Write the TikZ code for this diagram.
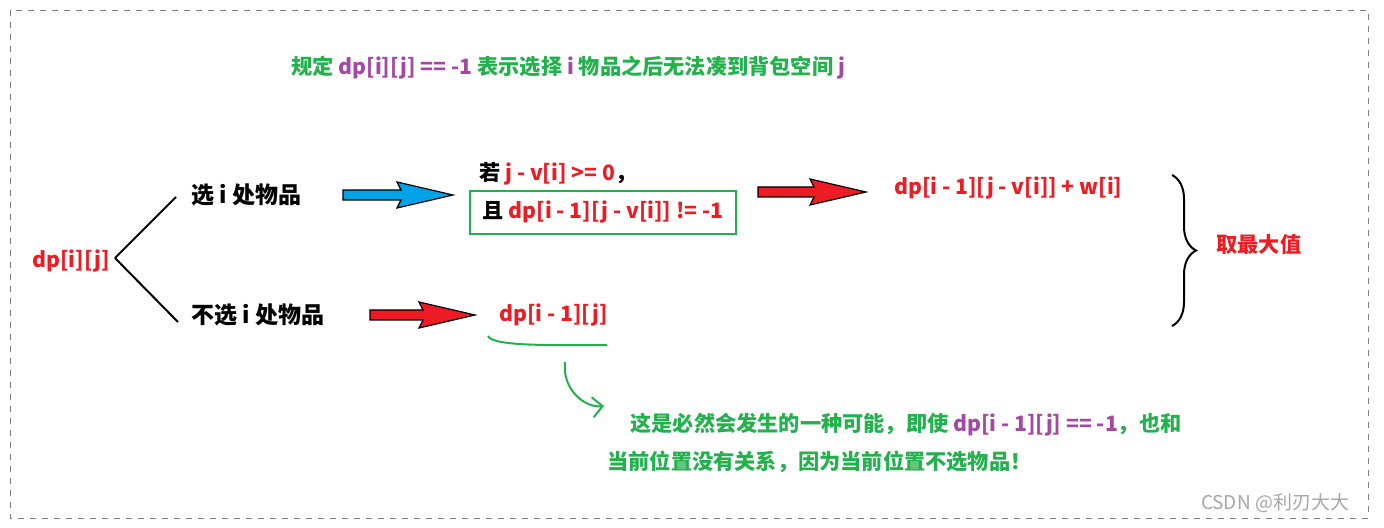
\documentclass[tikz,border=0pt]{standalone}
\usepackage{fontspec}
\setmainfont{Noto Sans CJK SC}
\usetikzlibrary{decorations.pathreplacing,arrows.meta}
\definecolor{gr}{RGB}{34,177,76}
\definecolor{rd}{RGB}{237,28,36}
\definecolor{pu}{RGB}{163,73,164}
\definecolor{bl}{RGB}{0,162,232}
\tikzset{txt/.style={font=\bfseries\fontsize{10.6}{12}\selectfont, inner sep=0pt},
 big/.style={font=\bfseries\fontsize{11.5}{13}\selectfont, inner sep=0pt}}
\newcommand{\blockarrow}[4]{% x1,x2,y,color
 \fill[#4,draw=black,line width=0.6pt] (#1,#3-5) -- (#2-52,#3-5) -- (#2-56,#3-13) -- (#2,#3) -- (#2-56,#3+13) -- (#2-52,#3+5) -- (#1,#3+5) -- cycle;}
\begin{document}
\begin{tikzpicture}[x=0.5pt,y=-0.5pt]
\useasboundingbox (0,0) rectangle (1384,528);
\draw[dashed,gray,line width=0.4pt] (10,10) rectangle (1368,518);
\node[txt,text=gr,anchor=west] (title) at (291,68) {规定 \textcolor{pu}{dp[i][j] == -1} 表示选择 \textcolor{pu}{i} 物品之后无法凑到背包空间 \textcolor{pu}{j}};
\node[txt,text=rd,anchor=west] (dp) at (32,261) {dp[i][j]};
\node[big,anchor=west] (sel) at (191,195) {选 i 处物品};
\node[big,anchor=west] (nsel) at (191,315) {不选 i 处物品};
\draw[line width=1pt] (115,258) -- (176,197);
\draw[line width=1pt] (115,258) -- (178,322);
\blockarrow{343}{453}{195}{bl}
\blockarrow{370}{475}{315}{rd}
\blockarrow{758}{866}{192}{rd}
\node[txt,anchor=west] (cond1) at (479,174) {若 \textcolor{rd}{j - v[i] >= 0}，};
\node[txt,anchor=west,draw=gr,line width=1pt,inner xsep=4pt,minimum height=21.5pt,minimum width=133pt] (cond2) at (469,212.5) {且 \textcolor{rd}{dp[i - 1][j - v[i]] != -1}};
\node[txt,text=rd,anchor=west] (res1) at (894,188) {dp[i - 1][j - v[i]] + w[i]};
\node[txt,text=rd,anchor=west] (res2) at (499,315) {dp[i - 1][j]};
\draw[decorate,decoration={brace,amplitude=12pt},line width=1pt] (1172,175) -- (1172,326);
\node[txt,text=rd,anchor=west] (max) at (1216,244) {取最大值};
\draw[gr,line width=1pt] (488,336) .. controls (492,347) and (560,345) .. (607,345);
\draw[gr,line width=1pt,-{Straight Barb[length=5pt]}] (565,362) .. controls (562,390) and (585,408) .. (604,406);
\node[txt,text=gr,anchor=west] (n1) at (630,425) {这是必然会发生的一种可能，即使 \textcolor{pu}{dp[i - 1][j] == -1}，也和};
\node[txt,text=gr,anchor=west] (n2) at (607,462) {当前位置没有关系，因为当前位置不选物品！};
\node[font=\fontsize{9.5}{10}\selectfont,text=gray!70,inner sep=0pt] (wm) at (1275,503) {CSDN @利刃大大};
\end{tikzpicture}
\end{document}
